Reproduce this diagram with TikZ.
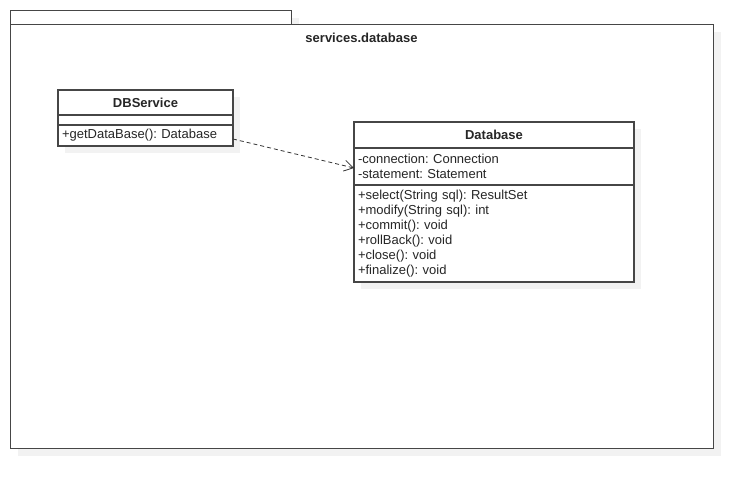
\documentclass[tikz,border=0pt]{standalone}
\usepackage{fontspec}
\setmainfont{Liberation Sans}
\usetikzlibrary{positioning,shadows,arrows.meta}
\definecolor{linegray}{RGB}{70,70,70}
\definecolor{shadowgray}{RGB}{242,242,242}
\definecolor{textgray}{RGB}{38,38,38}
\newcommand{\umlfont}{\fontsize{13}{15}\selectfont}
\frenchspacing

\tikzset{
  boxshadow/.style={drop shadow={shadow xshift=7pt, shadow yshift=-7pt, fill=shadowgray, opacity=1}},
  package/.style={draw=linegray, line width=1.3pt, fill=white, anchor=north west, inner sep=0pt, boxshadow},
  classbox/.style={draw=linegray, line width=1.2pt, fill=white, anchor=north west, inner sep=0pt, outer sep=0pt, boxshadow},
  classname/.style={draw=linegray, line width=1.2pt, anchor=north, inner sep=0pt, outer sep=0pt, font=\umlfont\bfseries, text=textgray},
  compartment/.style={draw=linegray, line width=1.2pt, inner xsep=4pt, inner ysep=0pt, outer sep=0pt, align=left, font=\umlfont, text=textgray},
  depend/.style={draw=black!80, line width=0.8pt, dash pattern=on 4pt off 3pt, -{Straight Barb[length=9pt,width=11pt]}}
}

\begin{document}
\begin{tikzpicture}[x=1pt, y=-1pt]
\useasboundingbox (0,0) rectangle (753,489);
% package
\node [package, minimum width=281pt, minimum height=14pt] (pkg-tab) at (10,10) {};
\node [package, minimum width=703pt, minimum height=424pt] (pkg) at (10,24) {};
\node [font=\umlfont\bfseries, text=textgray] (pkg-name) at (361.5,38) {services.database};

% DBService
\node [classbox, minimum width=175pt, minimum height=56pt] (dbs) at (58,90) {};
\node [classname, minimum width=175pt, minimum height=25pt] (dbs-name) at (dbs.north) {DBService};
\node [compartment, text width=167pt, minimum height=10pt, below=0pt of dbs-name] (dbs-attr) {};
\node [compartment, text width=167pt, minimum height=21pt, below=0pt of dbs-attr] (dbs-ops) {+getDataBase(): Database};

% Database
\node [classbox, minimum width=280pt, minimum height=160pt] (db) at (354,122) {};
\node [classname, minimum width=280pt, minimum height=26pt] (db-name) at (db.north) {Database};
\node [compartment, text width=272pt, minimum height=37pt, below=0pt of db-name] (db-attr)
  {-connection: Connection\\-statement: Statement};
\node [compartment, text width=272pt, minimum height=97pt, below=0pt of db-attr] (db-ops)
  {+select(String sql): ResultSet\\+modify(String sql): int\\+commit(): void\\+rollBack(): void\\+close(): void\\+finalize(): void};

\draw [depend] ([yshift=-3.5pt]dbs-ops.east) -- ([yshift=-1.5pt]db-attr.west);
\end{tikzpicture}
\end{document}
